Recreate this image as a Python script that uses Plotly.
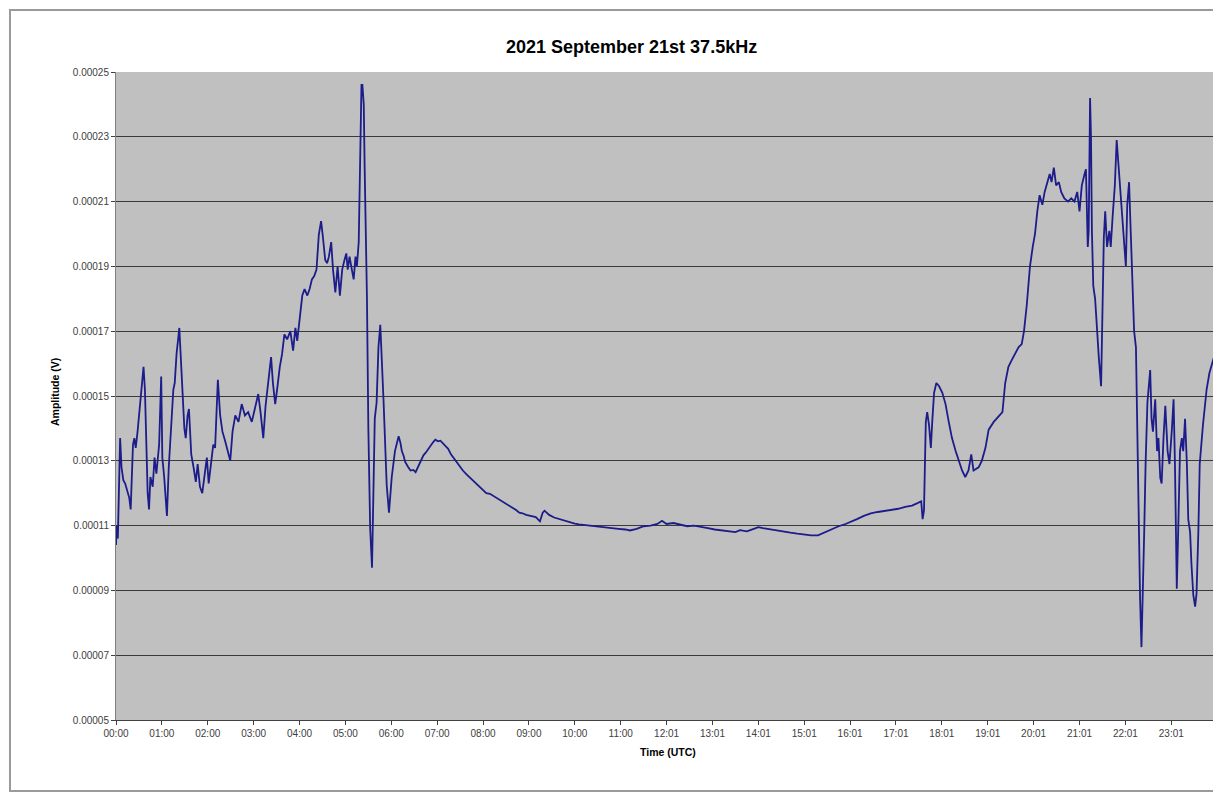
import plotly.graph_objects as go

# ---------------- data ----------------
title_text = "2021 September 21st 37.5kHz"
x_title = "Time (UTC)"
y_title = "Amplitude (V)"

time_tick_labels = ["00:00", "01:00", "02:00", "03:00", "04:00", "05:00", "06:00",
                    "07:00", "08:00", "09:00", "10:00", "11:00", "12:01", "13:01",
                    "14:01", "15:01", "16:01", "17:01", "18:01", "19:01", "20:01",
                    "21:01", "22:01", "23:01"]
time_tick_positions = list(range(24))  # one label per hour slot

amp_tick_values = [0.00005, 0.00007, 0.00009, 0.00011, 0.00013, 0.00015,
                   0.00017, 0.00019, 0.00021, 0.00023, 0.00025]
amp_tick_labels = ["0.00005", "0.00007", "0.00009", "0.00011", "0.00013", "0.00015",
                   "0.00017", "0.00019", "0.00021", "0.00023", "0.00025"]

# time in hours (UTC) and amplitude in units of 1e-5 V
hours = [
    0.00, 0.02, 0.04, 0.07, 0.09, 0.12, 0.16, 0.20, 0.24, 0.29, 0.32, 0.34, 0.37, 0.40,
    0.43, 0.47, 0.53, 0.56, 0.60, 0.63, 0.66, 0.69, 0.72, 0.75, 0.80, 0.84, 0.88, 0.94,
    0.985, 1.01, 1.05, 1.11, 1.15, 1.20, 1.25, 1.28, 1.32, 1.38, 1.41, 1.45, 1.49, 1.52,
    1.56, 1.59, 1.64, 1.69, 1.74, 1.78, 1.83, 1.88, 1.93, 1.98, 2.02, 2.07, 2.12, 2.16,
    2.22, 2.27, 2.32, 2.38, 2.44, 2.49, 2.54, 2.60, 2.67, 2.74, 2.81, 2.88, 2.96, 3.03,
    3.10, 3.15, 3.21, 3.26, 3.33, 3.38, 3.42, 3.47, 3.52, 3.57, 3.62, 3.67, 3.73, 3.80,
    3.86, 3.91, 3.95, 4.00, 4.06, 4.11, 4.17, 4.22, 4.27, 4.32, 4.37, 4.42, 4.47, 4.51,
    4.56, 4.60, 4.64, 4.69, 4.73, 4.78, 4.83, 4.88, 4.93, 4.98, 5.02, 5.05, 5.09, 5.14,
    5.18, 5.22, 5.25, 5.29, 5.31, 5.33, 5.35, 5.37, 5.40, 5.42, 5.45, 5.47, 5.50, 5.54,
    5.58, 5.61, 5.64, 5.68, 5.72, 5.76, 5.80, 5.83, 5.90, 5.95, 6.01, 6.08, 6.16, 6.20,
    6.23, 6.27, 6.30, 6.34, 6.37, 6.42, 6.48, 6.53, 6.59, 6.64, 6.70, 6.75, 6.81, 6.86,
    6.91, 6.96, 7.02, 7.07, 7.13, 7.18, 7.24, 7.30, 7.35, 7.42, 7.49, 7.56, 7.64, 7.70,
    7.78, 7.85, 7.93, 8.00, 8.07, 8.15, 8.22, 8.29, 8.36, 8.43, 8.50, 8.58, 8.65, 8.72,
    8.79, 8.86, 8.94, 9.05, 9.15, 9.24, 9.30, 9.34, 9.40, 9.44, 9.55, 9.66, 9.77, 9.88,
    10.00, 10.09, 10.20, 10.31, 10.42, 10.53, 10.65, 10.80, 10.95, 11.10, 11.20, 11.35,
    11.50, 11.65, 11.80, 11.90, 12.00, 12.15, 12.30, 12.45, 12.60, 12.75, 12.90, 13.05,
    13.20, 13.35, 13.50, 13.60, 13.75, 13.90, 14.00, 14.10, 14.25, 14.40, 14.55, 14.70,
    14.85, 15.00, 15.15, 15.30, 15.45, 15.60, 15.75, 15.90, 16.00, 16.15, 16.30, 16.45,
    16.60, 16.75, 16.90, 17.05, 17.20, 17.35, 17.48, 17.55, 17.58, 17.61, 17.65, 17.68,
    17.72, 17.76, 17.79, 17.83, 17.88, 17.94, 18.01, 18.08, 18.15, 18.22, 18.30, 18.37,
    18.44, 18.51, 18.58, 18.64, 18.69, 18.80, 18.87, 18.95, 19.02, 19.13, 19.23, 19.32,
    19.38, 19.45, 19.52, 19.59, 19.67, 19.74, 19.79, 19.85, 19.92, 19.98, 20.03, 20.08,
    20.13, 20.19, 20.24, 20.30, 20.35, 20.39, 20.44, 20.49, 20.55, 20.60, 20.67, 20.75,
    20.82, 20.89, 20.95, 21.00, 21.05, 21.11, 21.14, 21.18, 21.20, 21.23, 21.25, 21.27,
    21.30, 21.34, 21.38, 21.42, 21.47, 21.50, 21.53, 21.56, 21.60, 21.65, 21.68, 21.72,
    21.77, 21.81, 21.85, 21.88, 21.94, 21.97, 22.01, 22.04, 22.08, 22.12, 22.15, 22.19,
    22.23, 22.26, 22.29, 22.32, 22.35, 22.38, 22.41, 22.44, 22.48, 22.54, 22.57, 22.60,
    22.65, 22.69, 22.72, 22.76, 22.79, 22.83, 22.87, 22.92, 22.96, 23.01, 23.05, 23.08,
    23.10, 23.12, 23.15, 23.19, 23.23, 23.26, 23.30, 23.34, 23.37, 23.41, 23.44, 23.48,
    23.52, 23.55, 23.59, 23.62, 23.69, 23.74, 23.77, 23.83, 23.88, 23.93, 23.97, 24.00,
    24.01,
]

amplitude_1e5 = [
    10.4, 11.0, 10.6, 12.5, 13.7, 12.8, 12.4, 12.3, 12.1, 11.85, 11.5, 12.6, 13.5, 13.7,
    13.4, 13.9, 14.85, 15.3, 15.9, 15.2, 13.9, 12.0, 11.5, 12.5, 12.2, 13.1, 12.6, 13.5,
    15.6, 13.1, 12.5, 11.3, 12.8, 14.1, 15.2, 15.4, 16.3, 17.1, 16.2, 15.4, 14.0, 13.7,
    14.4, 14.6, 13.2, 12.8, 12.35, 12.9, 12.2, 12.0, 12.5, 13.1, 12.3, 12.9, 13.5, 13.4,
    15.5, 14.4, 13.9, 13.6, 13.3, 13.0, 13.9, 14.4, 14.2, 14.75, 14.4, 14.5, 14.2, 14.6,
    15.06, 14.5, 13.7, 14.7, 15.5, 16.2, 15.4, 14.75, 15.3, 15.9, 16.3, 16.9, 16.75, 17.0,
    16.4, 17.1, 16.7, 17.35, 18.1, 18.3, 18.1, 18.3, 18.6, 18.7, 18.9, 19.97, 20.4, 19.9,
    19.2, 19.1, 19.3, 19.75, 18.9, 18.2, 19.0, 18.1, 18.9, 19.2, 19.4, 18.9, 19.3, 18.9,
    18.6, 19.3, 19.0, 19.75, 21.3, 23.3, 24.6, 24.6, 24.0, 22.0, 19.5, 18.0, 14.0, 10.9,
    9.7, 11.6, 14.3, 14.8, 16.5, 17.2, 16.0, 14.9, 12.25, 11.4, 12.5, 13.3, 13.76, 13.55,
    13.3, 13.15, 12.97, 12.85, 12.8, 12.7, 12.72, 12.65, 12.84, 12.95, 13.17, 13.25, 13.37, 13.5,
    13.57, 13.65, 13.6, 13.62, 13.54, 13.45, 13.37, 13.2, 13.1, 12.95, 12.84, 12.7, 12.58, 12.5,
    12.38, 12.3, 12.18, 12.1, 12.0, 11.98, 11.92, 11.85, 11.79, 11.72, 11.66, 11.6, 11.53, 11.48,
    11.4, 11.38, 11.33, 11.3, 11.26, 11.13, 11.4, 11.46, 11.38, 11.33, 11.25, 11.2, 11.15, 11.1,
    11.06, 11.04, 11.02, 11.0, 10.98, 10.96, 10.95, 10.92, 10.9, 10.88, 10.85, 10.9,
    10.98, 11.0, 11.05, 11.15, 11.05, 11.08, 11.02, 10.98, 11.0, 10.95, 10.92, 10.88,
    10.85, 10.82, 10.8, 10.86, 10.82, 10.9, 10.95, 10.92, 10.88, 10.85, 10.8, 10.78,
    10.75, 10.72, 10.7, 10.7, 10.8, 10.88, 10.98, 11.05, 11.12, 11.2, 11.3, 11.38,
    11.42, 11.45, 11.5, 11.52, 11.58, 11.62, 11.7, 11.75, 11.2, 11.46, 14.2, 14.5,
    14.1, 13.4, 14.2, 15.1, 15.4, 15.3, 15.1, 14.75, 14.2, 13.7, 13.3, 12.97,
    12.7, 12.5, 12.7, 13.2, 12.7, 12.8, 13.0, 13.4, 13.96, 14.2, 14.35, 14.5,
    15.4, 15.9, 16.1, 16.3, 16.5, 16.6, 17.0, 17.8, 19.0, 19.6, 20.0, 20.7,
    21.2, 20.9, 21.3, 21.6, 21.85, 21.6, 22.05, 21.5, 21.6, 21.3, 21.1, 21.0,
    21.1, 21.0, 21.3, 20.7, 21.5, 21.85, 22.0, 19.6, 20.1, 24.2, 23.0, 20.1,
    18.4, 18.0, 17.0, 16.2, 15.3, 17.5, 19.9, 20.7, 19.6, 20.1, 19.6, 20.5,
    21.5, 22.9, 22.1, 21.5, 20.5, 19.9, 19.0, 20.9, 21.6, 19.9, 18.3, 17.0,
    16.5, 13.9, 10.8, 8.75, 7.25, 8.75, 10.8, 12.9, 14.8, 15.8, 14.3, 13.9,
    14.9, 13.3, 13.7, 12.47, 12.3, 13.7, 14.7, 13.3, 12.9, 13.9, 14.9, 12.9,
    9.8, 9.05, 10.8, 13.3, 13.7, 13.3, 14.3, 12.9, 11.2, 10.8, 9.8, 8.85,
    8.5, 8.9, 10.8, 12.9, 14.1, 14.8, 15.2, 15.7, 16.0, 16.2, 16.3, 16.8,
    23.65,
]

amplitude_v = [a * 1e-5 for a in amplitude_1e5]

# ---------------- figure ----------------
# The page body has an 8px default margin, so the figure is drawn 8px smaller
# and all pixel positions below are given in page coordinates minus that offset.
OFF = 8
W, H = 1221 - OFF, 795 - OFF
ML, MR, MT, MB = 116 - OFF, 2, 72 - OFF, 83 - OFF
PW, PH = W - ML - MR, H - MT - MB


def px_x(x):  # page pixel -> paper x
    return (x - OFF - ML) / PW


def px_y(y):  # page pixel -> paper y
    return (H - MB - (y - OFF)) / PH


FONT = "Liberation Sans, Arial, sans-serif"

fig = go.Figure()
fig.add_trace(go.Scatter(
    x=hours, y=amplitude_v, mode="lines",
    line=dict(color="#1c1c8a", width=1.8),
    hoverinfo="skip", showlegend=False,
))

fig.update_layout(
    width=W, height=H,
    margin=dict(l=ML, r=MR, t=MT, b=MB),
    paper_bgcolor="white",
    plot_bgcolor="#C0C0C0",
    font=dict(family=FONT, color="#404040"),
    showlegend=False,
    xaxis=dict(
        range=[0, 24.04],
        tickmode="array", tickvals=time_tick_positions, ticktext=time_tick_labels,
        ticks="outside", ticklen=4, tickcolor="#404040",
        tickfont=dict(size=10, color="#404040", family=FONT),
        showgrid=False, zeroline=False,
        showline=True, linecolor="#404040", linewidth=1,
    ),
    yaxis=dict(
        range=[0.00005, 0.00025],
        tickmode="array", tickvals=amp_tick_values, ticktext=amp_tick_labels,
        ticks="outside", ticklen=4, tickcolor="#404040",
        tickfont=dict(size=10, color="#404040", family=FONT),
        showgrid=True, gridcolor="#3a3a3a", gridwidth=1,
        zeroline=False,
        showline=True, linecolor="#808080", linewidth=1,
    ),
    annotations=[
        dict(text="<b>" + title_text + "</b>", xref="paper", yref="paper",
             x=px_x(631), y=px_y(47), xanchor="center", yanchor="middle",
             showarrow=False, font=dict(size=18, color="black", family=FONT)),
        dict(text="<b>" + x_title + "</b>", xref="paper", yref="paper",
             x=px_x(668), y=px_y(752), xanchor="center", yanchor="middle",
             showarrow=False, font=dict(size=10.5, color="black", family=FONT)),
        dict(text="<b>" + y_title + "</b>", xref="paper", yref="paper",
             x=px_x(55), y=px_y(392), xanchor="center", yanchor="middle",
             textangle=-90,
             showarrow=False, font=dict(size=10.5, color="black", family=FONT)),
    ],
    shapes=[
        # outer chart frame (left / top / bottom edges; right edge is cropped)
        dict(type="rect", xref="paper", yref="paper",
             x0=px_x(10), x1=px_x(1240), y0=px_y(791), y1=px_y(10),
             line=dict(color="#9a9a9a", width=2), fillcolor="rgba(0,0,0,0)",
             layer="above"),
        # hide the gridline that would sit on the top edge of the plot area
        dict(type="line", xref="paper", yref="y", x0=0, x1=1,
             y0=0.00025, y1=0.00025, line=dict(color="#C0C0C0", width=2),
             layer="below"),
    ],
)

fig.write_html("out.html", config={"displayModeBar": False})
